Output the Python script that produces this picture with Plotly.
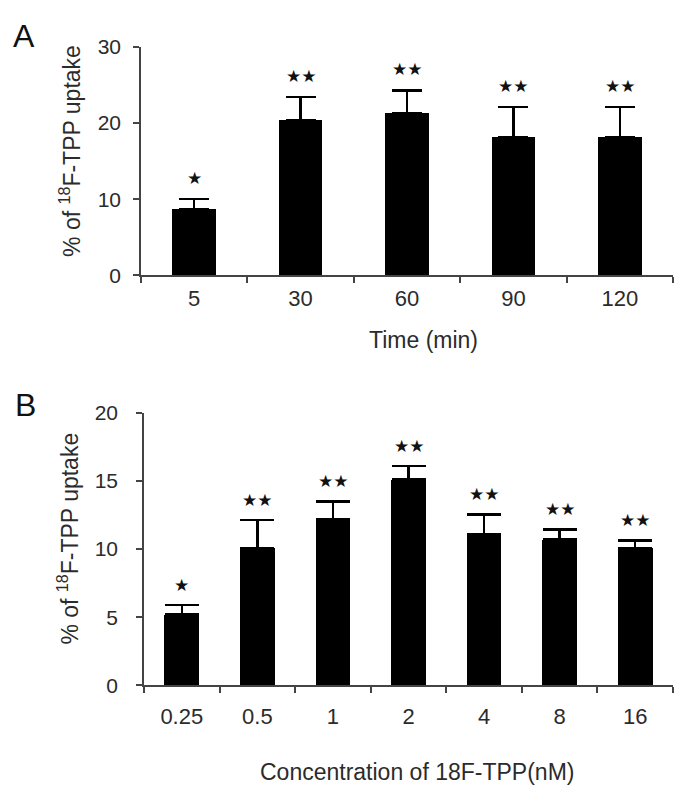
import plotly.graph_objects as go

# ---- Panel A data ----
time_labels = ["5", "30", "60", "90", "120"]
uptake_time = [8.7, 20.4, 21.3, 18.2, 18.2]
sd_time = [1.3, 3.0, 3.0, 3.9, 3.9]
sig_time = ["★", "★★", "★★", "★★", "★★"]

# ---- Panel B data ----
conc_labels = ["0.25", "0.5", "1", "2", "4", "8", "16"]
uptake_conc = [5.2, 10.05, 12.2, 15.1, 11.1, 10.7, 10.05]
sd_conc = [0.7, 2.1, 1.3, 1.0, 1.45, 0.75, 0.6]
sig_conc = ["★", "★★", "★★", "★★", "★★", "★★", "★★"]

W, H = 684, 809
FONT = "Liberation Sans, Arial, sans-serif"
TXT = "#2b2b2b"
AX = "#444444"

fig = go.Figure()

fig.add_trace(go.Bar(
    x=time_labels, y=uptake_time, width=0.41,
    marker=dict(color="black", line=dict(width=0)),
    error_y=dict(type="data", array=sd_time, arrayminus=[0]*len(sd_time),
                 symmetric=False, color="black", thickness=2.5, width=15),
    xaxis="x", yaxis="y", showlegend=False, hoverinfo="skip"))

fig.add_trace(go.Bar(
    x=conc_labels, y=uptake_conc, width=0.46,
    marker=dict(color="black", line=dict(width=0)),
    error_y=dict(type="data", array=sd_conc, arrayminus=[0]*len(sd_conc),
                 symmetric=False, color="black", thickness=2.5, width=17),
    xaxis="x2", yaxis="y2", showlegend=False, hoverinfo="skip"))

annotations = []
# category axes: annotations placed by category index
for i, (m, s, t) in enumerate(zip(uptake_time, sd_time, sig_time)):
    annotations.append(dict(x=i, y=m + s, xref="x", yref="y", text=t,
                            showarrow=False, yanchor="middle", yshift=21,
                            font=dict(family="DejaVu Sans", size=17, color="#111")))
for i, (m, s, t) in enumerate(zip(uptake_conc, sd_conc, sig_conc)):
    annotations.append(dict(x=i, y=m + s, xref="x2", yref="y2", text=t,
                            showarrow=False, yanchor="middle", yshift=20,
                            font=dict(family="DejaVu Sans", size=17, color="#111")))

def pt(x, y, text, size, angle=0, color=TXT):
    return dict(x=x / W, y=1 - y / H, xref="paper", yref="paper", text=text,
                showarrow=False, xanchor="center", yanchor="middle",
                textangle=angle, font=dict(family=FONT, size=size, color=color))

annotations += [
    pt(24, 25, "A", 32, color="#111"),
    pt(25, 404, "B", 32, color="#111"),
    pt(423, 338, "Time (min)", 23),
    pt(417, 782, "Concentration of 18F-TPP(nM)", 23),
    pt(70, 143, "% of <sup>18</sup>F-TPP uptake", 23, angle=-90),
    pt(68, 542, "% of <sup>18</sup>F-TPP uptake", 23, angle=-90),
]

common_x = dict(type="category", showline=True, linecolor=AX, linewidth=1.5,
                ticks="outside", tickson="boundaries", ticklen=6, tickcolor=AX,
                tickwidth=1.5, showgrid=False, zeroline=False,
                tickfont=dict(family=FONT, size=22, color=TXT))
common_y = dict(showline=True, linecolor=AX, linewidth=1.5, ticks="outside",
                ticklen=6, tickcolor=AX, tickwidth=1.5, showgrid=False,
                zeroline=False, tickfont=dict(family=FONT, size=21, color=TXT))

fig.update_layout(
    width=W, height=H, margin=dict(l=0, r=0, t=0, b=0),
    paper_bgcolor="white", plot_bgcolor="white", bargap=0,
    xaxis=dict(domain=[141 / W, 673 / W], anchor="y", range=[-0.5, 4.5],
               ticklabelstandoff=3, **common_x),
    yaxis=dict(domain=[1 - 271 / H, 1 - 36 / H], anchor="x", range=[0, 30],
               tickvals=[0, 10, 20, 30], ticklabelstandoff=8, **common_y),
    xaxis2=dict(domain=[144 / W, 673 / W], anchor="y2", range=[-0.5, 6.5],
                ticklabelstandoff=11, **common_x),
    yaxis2=dict(domain=[1 - 693 / H, 1 - 412.7 / H], anchor="x2", range=[0, 20],
                tickvals=[0, 5, 10, 15, 20], ticklabelstandoff=14, **common_y),
    annotations=annotations,
)

fig.write_html("out.html", config={"displayModeBar": False},
               post_script="document.body.style.margin='0';document.body.style.overflow='hidden';")
